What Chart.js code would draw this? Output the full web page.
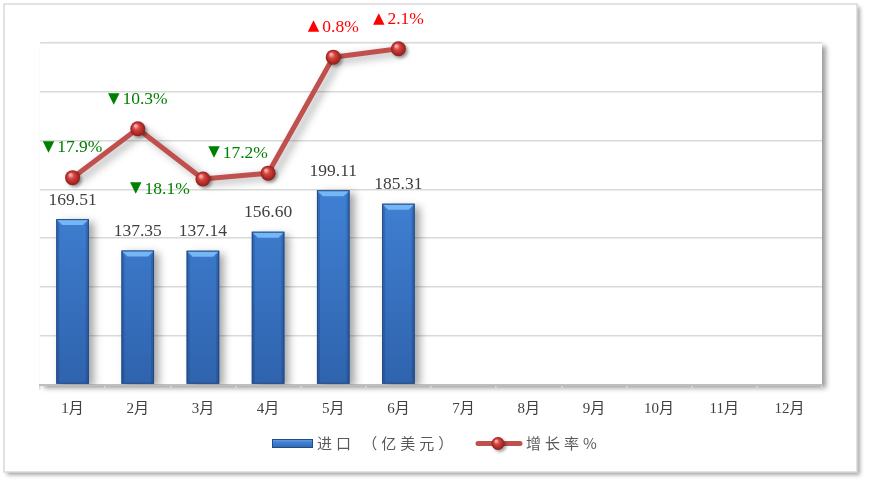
<!DOCTYPE html>
<html><head><meta charset="utf-8">
<script src="https://cdn.jsdelivr.net/npm/chart.js@4/dist/chart.umd.min.js"></script>
<style>html,body{margin:0;padding:0;background:#fff;}#c{display:block;}</style>
</head><body>
<canvas id="c" width="870" height="486"></canvas>
<script>
const months = ['1月','2月','3月','4月','5月','6月','7月','8月','9月','10月','11月','12月'];
const importValues = [169.51, 137.35, 137.14, 156.60, 199.11, 185.31];
const growthRates = [-17.9, -10.3, -18.1, -17.2, 0.8, 2.1];
const barLabel = '进口 （亿美元）';
const lineLabel = '增长率%';

// label offsets (style) for growth labels, relative to the point
const growthLabelOffsets = [[0,-30],[0,-29],[-43,10],[-30,-20],[0,-30],[0,-29]];

const serif = "'Liberation Serif','Times New Roman','Noto Sans CJK SC',serif";
const cjk = "'Noto Sans CJK SC','Liberation Serif',sans-serif";
const labelFont = '17.5px ' + serif;

function sphere(ctx, x, y, r) {
  ctx.save();
  ctx.shadowColor = 'rgba(0,0,0,0.35)';
  ctx.shadowOffsetX = 2; ctx.shadowOffsetY = 2; ctx.shadowBlur = 3;
  const g = ctx.createRadialGradient(x - r*0.3, y - r*0.4, r*0.1, x, y, r);
  g.addColorStop(0, '#f7b3b0');
  g.addColorStop(0.35, '#d9443f');
  g.addColorStop(1, '#8e1d1a');
  ctx.fillStyle = g;
  ctx.beginPath(); ctx.arc(x, y, r, 0, Math.PI*2); ctx.fill();
  ctx.restore();
}

const decor = {
  id: 'decor',
  beforeDraw(chart) {
    const ctx = chart.ctx, ca = chart.chartArea;
    ctx.save();
    ctx.fillStyle = '#fff';
    ctx.fillRect(0, 0, chart.width, chart.height);
    ctx.shadowColor = 'rgba(0,0,0,0.35)';
    ctx.shadowOffsetX = 3; ctx.shadowOffsetY = 3; ctx.shadowBlur = 4;
    ctx.fillStyle = '#fff';
    ctx.fillRect(4, 4, 853, 468);
    ctx.shadowColor = 'transparent';
    ctx.strokeStyle = '#d9d9d9'; ctx.lineWidth = 1.5;
    ctx.strokeRect(4, 4, 853, 468);
    ctx.shadowColor = 'rgba(0,0,0,0.4)';
    ctx.shadowOffsetX = 4; ctx.shadowOffsetY = 3; ctx.shadowBlur = 5;
    ctx.fillStyle = '#fff';
    ctx.fillRect(ca.left, ca.top, ca.right - ca.left, ca.bottom - ca.top);
    ctx.restore();
  },
  beforeDatasetDraw(chart, args) {
    const ctx = chart.ctx;
    ctx.save();
    ctx.shadowColor = 'rgba(0,0,0,0.35)';
    ctx.shadowOffsetX = 5; ctx.shadowOffsetY = 3; ctx.shadowBlur = 8;
  },
  afterDatasetDraw(chart, args) {
    const ctx = chart.ctx;
    ctx.restore();
    const meta = args.meta;
    if (meta.type === 'bar') {
      meta.data.forEach(el => {
        const p = el.getProps(['x','y','base','width'], true);
        const l = p.x - p.width/2, r = p.x + p.width/2, t = p.y, b = p.base;
        const bv = 6;
        ctx.save();
        ctx.fillStyle = 'rgba(120,185,245,0.95)';
        ctx.beginPath(); ctx.moveTo(l, t); ctx.lineTo(r, t); ctx.lineTo(r - bv, t + bv); ctx.lineTo(l + bv, t + bv); ctx.closePath(); ctx.fill();
        ctx.fillStyle = 'rgba(20,50,110,0.25)';
        ctx.beginPath(); ctx.moveTo(l, t); ctx.lineTo(l + 3, t + bv); ctx.lineTo(l + 3, b); ctx.lineTo(l, b); ctx.closePath(); ctx.fill();
        ctx.beginPath(); ctx.moveTo(r, t); ctx.lineTo(r - 3, t + bv); ctx.lineTo(r - 3, b); ctx.lineTo(r, b); ctx.closePath(); ctx.fill();
        ctx.strokeStyle = '#224a85'; ctx.lineWidth = 1;
        ctx.strokeRect(l + 0.5, t + 0.5, p.width - 1, b - t - 1);
        ctx.restore();
      });
    } else if (meta.type === 'line') {
      meta.data.forEach(el => sphere(ctx, el.x, el.y, 7.5));
    }
  },
  afterDatasetsDraw(chart) {
    const ctx = chart.ctx;
    ctx.save();
    ctx.textBaseline = 'middle';
    ctx.font = labelFont;
    const bm = chart.getDatasetMeta(0);
    ctx.fillStyle = '#404040';
    ctx.textAlign = 'center';
    bm.data.forEach((el, i) => {
      ctx.fillText(importValues[i].toFixed(2), el.x, el.y - 19);
    });
    const lm = chart.getDatasetMeta(1);
    const triFont = '15px "DejaVu Sans"';
    lm.data.forEach((el, i) => {
      const v = growthRates[i];
      const tri = v < 0 ? '▼' : '▲';
      const num = Math.abs(v).toFixed(1) + '%';
      ctx.fillStyle = v < 0 ? '#008000' : '#ff0000';
      const o = growthLabelOffsets[i];
      ctx.font = triFont; const tw = ctx.measureText(tri).width;
      ctx.font = labelFont; const nw = ctx.measureText(num).width;
      const gap = 3;
      const total = tw + gap + nw;
      const x0 = el.x + o[0] - total / 2, y0 = el.y + o[1];
      ctx.textAlign = 'left';
      ctx.font = triFont; ctx.fillText(tri, x0, y0 - 1);
      ctx.font = labelFont; ctx.fillText(num, x0 + tw + gap, y0);
    });
    ctx.restore();
    // legend
    ctx.save();
    const ly = 443.5;
    const g = ctx.createLinearGradient(0, ly - 5, 0, ly + 5);
    g.addColorStop(0, '#78b6f0'); g.addColorStop(0.35, '#4183d7'); g.addColorStop(1, '#2f63ad');
    ctx.fillStyle = g; ctx.fillRect(272, ly - 4.5, 41, 9);
    ctx.strokeStyle = '#224a85'; ctx.lineWidth = 1; ctx.strokeRect(272.5, ly - 4, 40, 8);
    ctx.font = '15px ' + cjk;
    ctx.fillStyle = '#595959';
    ctx.textBaseline = 'middle'; ctx.textAlign = 'left';
    ctx.letterSpacing = '4px';
    ctx.fillText(chart.data.datasets[0].label, 317, ly);
    ctx.strokeStyle = '#c0504d'; ctx.lineWidth = 5; ctx.lineCap = 'round';
    ctx.beginPath(); ctx.moveTo(478, ly); ctx.lineTo(520, ly); ctx.stroke();
    sphere(ctx, 498, ly, 6.5);
    ctx.fillStyle = '#595959';
    ctx.fillText(chart.data.datasets[1].label, 526, ly);
    ctx.restore();
  }
};

new Chart(document.getElementById('c'), {
  data: {
    labels: months,
    datasets: [
      {
        type: 'bar', label: barLabel, data: importValues, yAxisID: 'y', order: 2,
        backgroundColor: (c) => {
          const ca = c.chart.chartArea;
          if (!ca) return '#3d7acb';
          const g = c.chart.ctx.createLinearGradient(0, ca.top, 0, ca.bottom);
          g.addColorStop(0, '#4688dc'); g.addColorStop(0.5, '#3e7dcf'); g.addColorStop(1, '#2f63ad');
          return g;
        },
        borderWidth: 0, barPercentage: 0.5, categoryPercentage: 1.0
      },
      {
        type: 'line', label: lineLabel, data: growthRates, yAxisID: 'y2', order: 1,
        borderColor: '#c0504d', borderWidth: 5, pointRadius: 0, tension: 0,
        borderCapStyle: 'round', borderJoinStyle: 'round', fill: false
      }
    ]
  },
  options: {
    responsive: false, animation: false,
    layout: { padding: { left: 40, right: 48, top: 43, bottom: 67.5 } },
    plugins: { legend: { display: false }, tooltip: { enabled: false } },
    scales: {
      x: {
        offset: true,
        grid: { display: true, drawOnChartArea: false, drawTicks: true, tickLength: 5, color: '#d9d9d9', lineWidth: 1.5, offset: true },
        border: { display: true, color: '#bfbfbf', width: 2 },
        ticks: { color: '#404040', font: { family: serif, size: 15 }, padding: 11, maxRotation: 0 },
        afterFit: (s) => { s.height = 34; }
      },
      y: {
        display: true, min: 0, max: 350,
        ticks: { display: false, stepSize: 50 },
        grid: { color: '#d9d9d9', lineWidth: 1.5, drawTicks: false },
        border: { display: false },
        afterFit: (s) => { s.width = 0; }
      },
      y2: { display: false, min: -50, max: 3, position: 'right' }
    }
  },
  plugins: [decor]
});
</script>
</body></html>
